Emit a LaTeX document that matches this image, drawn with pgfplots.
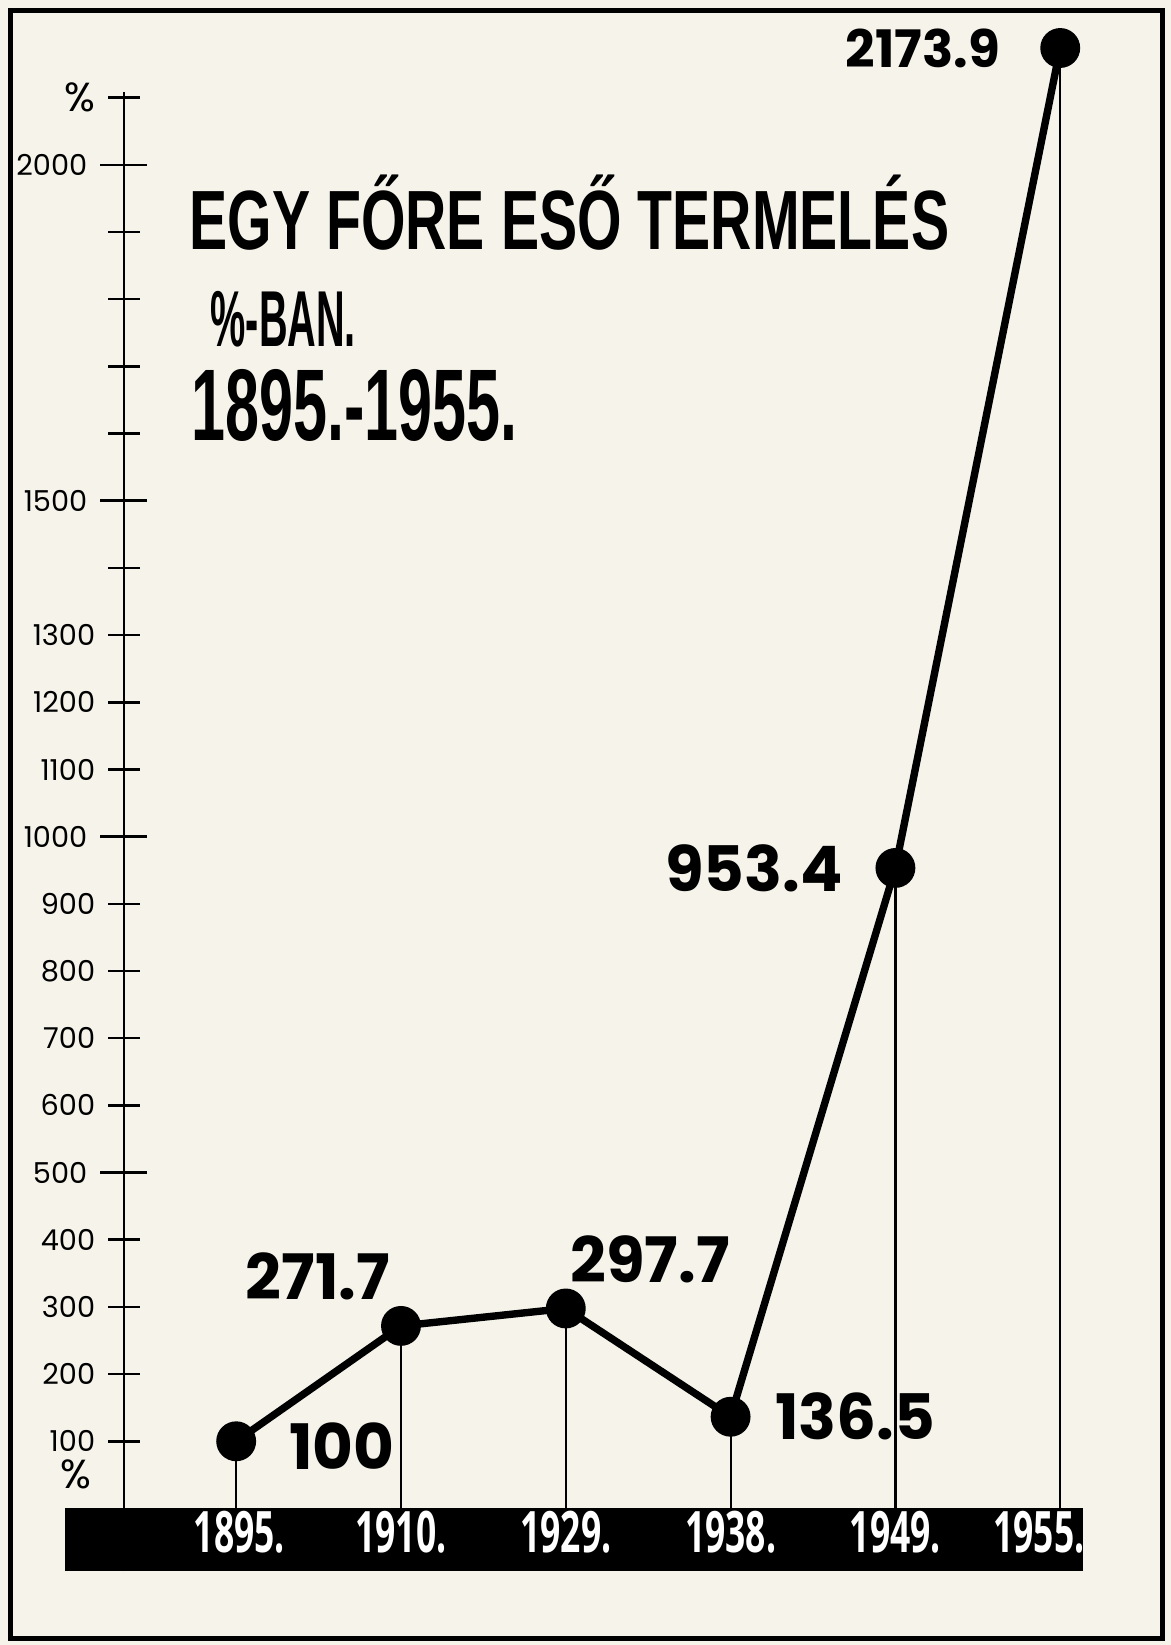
\documentclass[border=0pt]{standalone}
\usepackage{fontspec}
\usepackage{graphicx}
\usepackage{pgfplots}
\pgfplotsset{compat=1.18}
\newfontfamily\titlefont{Liberation Sans}
\newfontfamily\labfont{Poppins}
\newfontfamily\tickfont{Poppins}
\newfontfamily\yrfont{Open Sans}
\definecolor{paper}{RGB}{245,243,234}
\newcommand\yr[1]{\scalebox{0.62}[1]{#1}}
\begin{document}
\begin{tikzpicture}
\begin{scope}[x=0.01cm,y=-0.01cm]
\fill[paper] (0,0) rectangle (1116,1568);
\draw[line width=0.05cm] (10,10) rectangle (1108,1562);
\end{scope}
\begin{axis}[
  at={(1.18cm,-14.97cm)}, anchor=south west,
  scale only axis, width=9.14cm, height=14.09cm,
  xmin=-0.6815, xmax=5.14, ymin=-93.75, ymax=2107.8,
  axis y line=left, axis x line=bottom,
  x axis line style={draw=none},
  y axis line style={line width=0.7pt, -},
  clip=false,
  xtick=\empty,
  tick align=center,
  major tick length=0.3cm,
  y tick style={line width=0.7pt, black},
  ytick={100,200,300,400,600,700,800,900,1100,1200,1300,1400,1600,1700,1800,1900,2100},
  yticklabels={100,200,300,400,600,700,800,900,1100,1200,1300,,,,,,{\fontsize{11}{12}\selectfont\%}},
  extra y ticks={500,1000,1500,2000},
  extra y tick labels={500,1000,1500,2000},
  extra y tick style={major tick length=0.45cm},
  yticklabel style={font=\tickfont\fontsize{7.8}{8}\selectfont, anchor=east},
]
\addplot[ycomb, line width=0.6pt, black] coordinates {(0,100) (1,271.7) (2,297.7) (3,136.5) (4,953.4) (5,2173.9)};
\addplot[black, line width=2pt, mark=*, mark size=4.4pt] coordinates {(0,100) (1,271.7) (2,297.7) (3,136.5) (4,953.4) (5,2173.9)};
\node[anchor=east, xshift=-0.45cm, font=\labfont\bfseries\fontsize{14}{15}\selectfont] at (axis cs:5,2173.9) {2173.9};
\node[anchor=east, xshift=-0.38cm, font=\labfont\bfseries\fontsize{17}{18}\selectfont] at (axis cs:4,953.4) {953.4};
\node[anchor=south west, xshift=-0.08cm, yshift=0.12cm, font=\labfont\bfseries\fontsize{17}{18}\selectfont] at (axis cs:2,297.7) {297.7};
\node[anchor=south east, xshift=0.02cm, yshift=0.12cm, font=\labfont\bfseries\fontsize{17}{18}\selectfont] at (axis cs:1,271.7) {271.7};
\node[anchor=west, xshift=0.38cm, yshift=-0.05cm, font=\labfont\bfseries\fontsize{17}{18}\selectfont] at (axis cs:0,100) {100};
\node[anchor=west, xshift=0.3cm, font=\labfont\bfseries\fontsize{17}{18}\selectfont] at (axis cs:3,136.5) {136.5};
\end{axis}
\begin{scope}[x=0.01cm,y=-0.01cm]
\fill[black] (62,1437) rectangle (1032,1497);
\node[anchor=center, font=\tickfont\fontsize{11}{12}\selectfont] at (72,1405) {\%};
\node[anchor=base west, inner sep=0] at (180,238) {\titlefont\bfseries\fontsize{22.8}{24}\selectfont\scalebox{0.68}[1]{EGY FŐRE ESŐ TERMELÉS}};
\node[anchor=base west, inner sep=0] at (200,330) {\titlefont\bfseries\fontsize{21.5}{24}\selectfont\scalebox{0.5}[1]{\%-BAN.}};
\node[anchor=base west, inner sep=0] at (182,420) {\titlefont\bfseries\fontsize{27.6}{30}\selectfont\scalebox{0.6}[1]{1895.-1955.}};
\end{scope}
\begin{axis}[
  at={(1.18cm,-14.97cm)}, anchor=south west,
  scale only axis, width=9.14cm, height=14.09cm,
  xmin=-0.6815, xmax=5.14, ymin=-93.75, ymax=2107.8,
  hide y axis, axis x line=bottom,
  x axis line style={draw=none},
  xtick={0.02,1,2,3,4,4.87},
  xticklabels={\yr{1895.},\yr{1910.},\yr{1929.},\yr{1938.},\yr{1949.},\yr{1955.}},
  x tick style={draw=none},
  xticklabel style={anchor=center, yshift=0.45cm, text=white, font=\yrfont\bfseries\fontsize{15.5}{16}\selectfont},
]
\end{axis}
\end{tikzpicture}
\end{document}
